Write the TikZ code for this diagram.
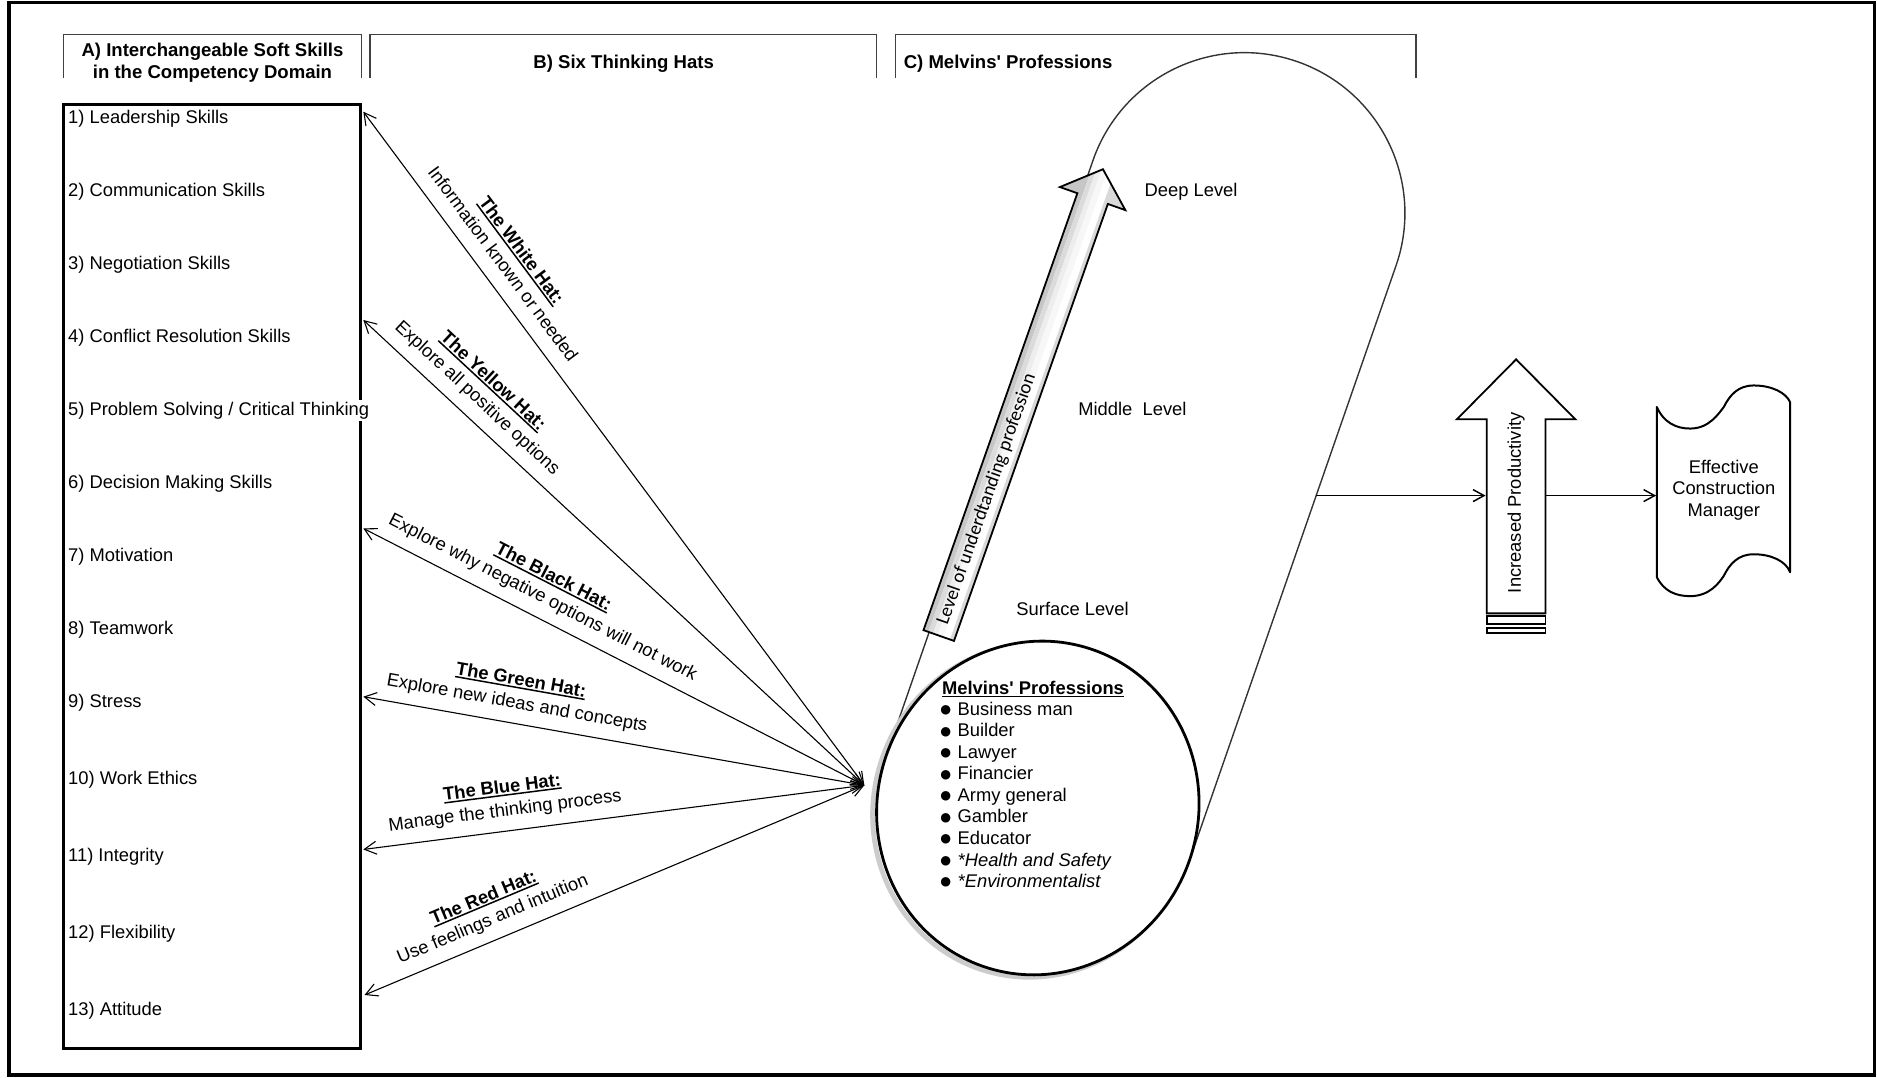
\documentclass[tikz,border=0pt]{standalone}
\usepackage{fontspec}
\setmainfont{Liberation Sans}
\newfontfamily\calibrifont{Carlito}
\newfontfamily\symfont{DejaVu Sans}
\usetikzlibrary{arrows.meta,calc}

% bold text with a plain underline close to the baseline
\newcommand\ulbf[1]{\setbox0\hbox{\bfseries #1}\rlap{\rule[-1.5pt]{\wd0}{0.75pt}}\box0}
\newcommand\bul{{\symfont\fontsize{6.2pt}{6.2pt}\selectfont ●}}

\begin{document}
\begin{tikzpicture}[x=0.6pt,y=-0.6pt,
  every node/.style={font=\fontsize{9.2pt}{10.8pt}\selectfont, inner sep=1pt},
  hdr/.style={draw=black!75, line width=0.7pt},
  hdrtext/.style={font=\fontsize{9.3pt}{10.8pt}\selectfont\bfseries},
  item/.style={anchor=west, fill=white, text height=6.8pt, text depth=1.9pt},
  hatarrow/.style={line width=0.55pt,
    {Straight Barb[length=6pt,width=6.5pt]}-{Straight Barb[length=6pt,width=6.5pt]}},
  hatlabel/.style={sloped, above, outer sep=4.5pt, align=center, text depth=2pt,
    font=\fontsize{9.2pt}{11.6pt}\selectfont},
  flow/.style={line width=0.75pt, -{Straight Barb[length=5.5pt,width=6pt]}},
  capsule/.style={draw=black!80, line width=0.7pt},
  blockline/.style={draw=black, line width=0.9pt, line join=miter},
  proftext/.style={anchor=west, text height=6.8pt, text depth=1.9pt}]

\useasboundingbox (0,0) rectangle (1568,900);

% outer frame
\draw[line width=1.8pt] (7.5,2) rectangle (1566,898);

% column headers
\draw[hdr] (53,65) -- (53,29) -- (302,29) -- (302,65);
\draw[hdr] (309,65) -- (309,29) -- (732,29) -- (732,65);
\draw[hdr] (748,65) -- (748,29) -- (1183,29) -- (1183,65);
\node[hdrtext, align=center] (headA) at (177.5,52.5) {A) Interchangeable Soft Skills\\in the Competency Domain};
\node[hdrtext] (headB) at (521,53) {B) Six Thinking Hats};
\node[hdrtext, anchor=west] (headC) at (753,53) {C) Melvins\textquotesingle\ Professions};

% soft skills list
\draw[line width=1.4pt] (53,87) rectangle (301,876);
\node[item] (s1)  at (55,99)    {1) Leadership Skills};
\node[item] (s2)  at (55,160)   {2) Communication Skills};
\node[item] (s3)  at (55,221)   {3) Negotiation Skills};
\node[item] (s4)  at (55,282)   {4) Conflict Resolution Skills};
\node[item] (s5)  at (55,343)   {5) Problem Solving / Critical Thinking};
\node[item] (s6)  at (55,404)   {6) Decision Making Skills};
\node[item] (s7)  at (55,465)   {7) Motivation};
\node[item] (s8)  at (55,526)   {8) Teamwork};
\node[item] (s9)  at (55,587)   {9) Stress};
\node[item] (s10) at (55,651.5) {10) Work Ethics};
\node[item] (s11) at (55,715.5) {11) Integrity};
\node[item] (s12) at (55,779.5) {12) Flexibility};
\node[item] (s13) at (55,844)   {13) Attitude};

% professions capsule: a tilted stadium ending in the professions ellipse
\def\capr{134}
\def\tilt{19.15}
\coordinate (C1) at (867,675);
\coordinate (C2) at (1039.6,178);
\draw[capsule] ($(C1)+(180+\tilt:\capr)$) -- ($(C2)+(180+\tilt:\capr)$)
  arc[start angle=180+\tilt, end angle=360+\tilt, radius=\capr]
  -- ($(C1)+(\tilt:\capr)$);
\draw[gray!40, line width=2.4pt, rotate around={-\tilt:(C1)}]
  ($(C1)+(-2.5,3)$) ellipse[x radius=\capr, y radius=140];
\draw[line width=1.4pt, fill=white, rotate around={-\tilt:(C1)}]
  (C1) ellipse[x radius=\capr, y radius=140];

% level of understanding arrow, darker towards its left edge
\begin{scope}[shift={(784.2,530.9)}, rotate=70.6]
  \def\lvlshape{(0,-13.5) -- (387,-13.5) -- (387,-29) -- (413,0)
    -- (387,29) -- (387,13.5) -- (0,13.5) -- cycle}
  \fill[white] \lvlshape;
  \begin{scope}
    \clip \lvlshape;
    \fill[gray!45] (-5,-32) rectangle (420,-9);
    \fill[gray!28] (-5,-9) rectangle (420,-5);
    \fill[gray!14] (-5,-5) rectangle (420,-1);
    \fill[gray!6]  (-5,-1) rectangle (420,4);
    \fill[gray!30] (-5,10) rectangle (420,32);
  \end{scope}
  \draw[black, line width=0.9pt] \lvlshape;
  \node[rotate=70.6, anchor=west, font=\calibrifont\fontsize{9.6pt}{10pt}\selectfont]
    (lvl) at (8,0) {Level of underdtanding profession};
\end{scope}

\node (deep) at (995,160) {Deep Level};
\node (middle) at (946,342) {Middle~~Level};
\node (surface) at (896,509) {Surface Level};

% professions list in the ellipse
\node[proftext] (ptitle) at (785,576) {\ulbf{Melvins\textquotesingle\ Professions}};
\foreach \t [count=\i] in {Business man, Builder, Lawyer, Financier, Army general,
    Gambler, Educator, \textit{*Health and Safety}, \textit{*Environmentalist}} {
  \node (pb\i) at (790,575.4+18*\i) {\bul};
  \node[proftext] (p\i) at (798,575.4+18*\i) {\t};
}

% six thinking hats
\coordinate (conv) at (722,656);
\coordinate (hatW) at (303.5,93.3);
\coordinate (hatY) at (303.5,267.3);
\coordinate (hatK) at (303.5,441.4);
\coordinate (hatG) at (303.5,582);
\coordinate (hatB) at (303.5,709.6);
\coordinate (hatR) at (304.5,831.2);
\draw[hatarrow] (hatW) -- (conv) node[hatlabel, pos=0.245]
  {\ulbf{The White Hat:}\\Information known or needed};
\draw[hatarrow] (hatY) -- (conv) node[hatlabel, pos=0.2]
  {\ulbf{The Yellow Hat:}\\Explore all positive options};
\draw[hatarrow] (hatK) -- (conv) node[hatlabel, pos=0.34]
  {\ulbf{The Black Hat:}\\Explore why negative options will not work};
\draw[hatarrow] (hatG) -- (conv) node[hatlabel, pos=0.3]
  {\ulbf{The Green Hat:}\\Explore new ideas and concepts};
\draw[hatarrow] (hatB) -- (conv) node[hatlabel, pos=0.288]
  {\ulbf{The Blue Hat:}\\Manage the thinking process};
\draw[hatarrow] (hatR) -- (conv) node[hatlabel, pos=0.272]
  {\ulbf{The Red Hat:}\\Use feelings and intuition};

% increased productivity block arrow
\draw[blockline] (1242,512.4) -- (1242,350.3) -- (1217,350.3) -- (1266.5,300.2)
  -- (1316,350.3) -- (1291,350.3) -- (1291,512.4) -- cycle;
\draw[blockline] (1242,514.8) rectangle (1291,521.3);
\draw[blockline] (1242,524.4) rectangle (1291,528.6);
\node[rotate=90] (prod) at (1266.5,420) {Increased Productivity};

% effective construction manager (punched tape shape)
\draw[line width=1pt, line join=round]
  (1384,340) .. controls (1390,353) and (1400,358) .. (1412,358)
  .. controls (1428,358) and (1436,345) .. (1440,340)
  .. controls (1445,330) and (1452,322) .. (1465,322)
  .. controls (1480,322) and (1492,328) .. (1495.4,336)
  -- (1495.4,478)
  .. controls (1492,469) and (1480,463) .. (1465,463)
  .. controls (1452,463) and (1445,471) .. (1440,481)
  .. controls (1436,487) and (1428,498) .. (1412,498)
  .. controls (1400,498) and (1390,494) .. (1384,482) -- cycle;
\node[align=center] (ecm) at (1440,409.5) {Effective\\Construction\\Manager};

% flow connectors
\coordinate (capR) at (1099.5,414);
\coordinate (prodW) at (1241,414);
\coordinate (prodE) at (1291,414);
\coordinate (ecmW) at (1383.5,414);
\draw[flow] (capR) -- (prodW);
\draw[flow] (prodE) -- (ecmW);

\end{tikzpicture}
\end{document}
